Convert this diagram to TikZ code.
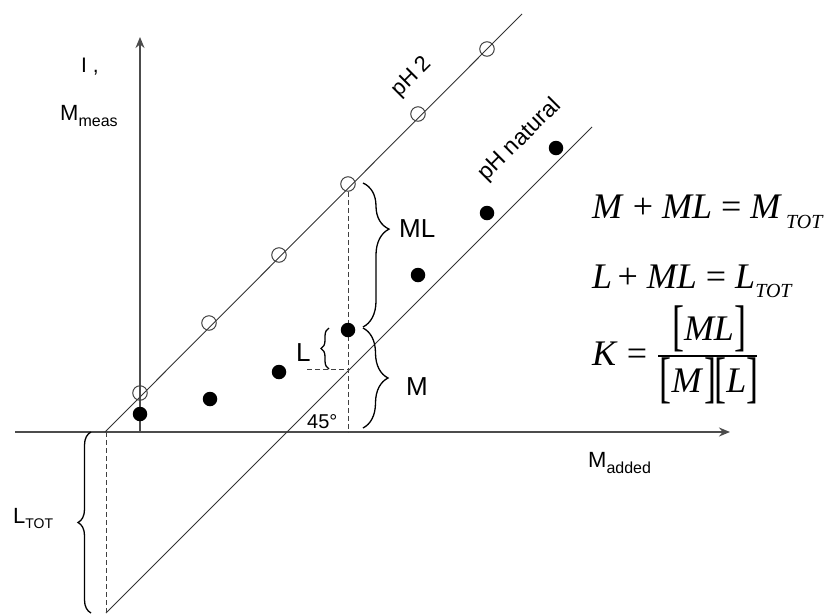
\documentclass[tikz,border=0pt]{standalone}
\usepackage{fontspec}
\usepackage{graphicx}
\setmainfont{Liberation Sans}
\newfontfamily\eqfont{Liberation Serif}
\usetikzlibrary{decorations.pathreplacing,arrows.meta}
\newcommand{\lbrk}{\raisebox{-4pt}{\scalebox{1}[1.55]{[}}}
\newcommand{\rbrk}{\raisebox{-4pt}{\scalebox{1}[1.55]{]}}}
\begin{document}
\begin{tikzpicture}[x=1pt,y=-1pt,
  diag/.style={draw=black!80, line width=0.9pt},
  axis/.style={draw=black!70, line width=1.8pt, -{Stealth[length=11pt,width=9pt]}},
  dashline/.style={draw=black!75, line width=1pt, dash pattern=on 5pt off 3pt},
  opendot/.style={circle, draw=black!75, line width=1pt, minimum size=14.5pt, inner sep=0pt},
  fulldot/.style={circle, fill=black, minimum size=14.5pt, inner sep=0pt},
  bracestyle/.style n args={2}{draw=black, line width=1.3pt, decorate, decoration={brace, amplitude=#1, aspect=#2}},
  lab/.style={font=\fontsize{26}{26}\selectfont, inner sep=0pt, anchor=base west},
  sublab/.style={font=\fontsize{22}{22}\selectfont, inner sep=0pt, anchor=base west},
  eq/.style={font=\eqfont\fontsize{36}{36}\selectfont, inner sep=0pt, anchor=base west},
]
\useasboundingbox (0,0) rectangle (825,614);
% axes
\coordinate (xs) at (15,432);
\coordinate (xe) at (730,432);
\coordinate (ys) at (140,432);
\coordinate (ye) at (140,37);
\draw[axis] (xs) -- (xe);
\draw[axis] (ys) -- (ye);
% diagonal lines
\coordinate (a1) at (105,432);
\coordinate (a2) at (522,14);
\coordinate (b1) at (106,613);
\coordinate (b2) at (592,127);
\draw[diag] (a1) -- (a2);
\draw[diag] (b1) -- (b2);
% dashed lines
\coordinate (d1) at (348,432);
\coordinate (d2) at (307,369);
\coordinate (d3) at (348,369);
\coordinate (d4) at (106,432);
\draw[dashline] (d4) -- (b1);
\draw[dashline] (d2) -- (d3);
% open circles
\node[opendot] (c1) at (140,393) {};
\node[opendot] (c2) at (209,323) {};
\node[opendot] (c3) at (279,255) {};
\node[opendot] (c4) at (348,184) {};
\node[opendot] (c5) at (418,114) {};
\node[opendot] (c6) at (487,49) {};
\draw[dashline] (c4.south) -- (d1);
% filled dots
\node[fulldot] (f1) at (140,414) {};
\node[fulldot] (f2) at (210,399) {};
\node[fulldot] (f3) at (279,372) {};
\node[fulldot] (f4) at (348,330) {};
\node[fulldot] (f5) at (418,275) {};
\node[fulldot] (f6) at (487,213) {};
\node[fulldot] (f7) at (556,148) {};
% braces
\coordinate (br1) at (363,183);
\coordinate (br2) at (363,327);
\coordinate (br3) at (363,328);
\coordinate (br4) at (363,428);
\coordinate (br5) at (329,369);
\coordinate (br6) at (329,328);
\coordinate (br7) at (91,613);
\coordinate (br8) at (91,432);
\draw[bracestyle={26pt}{0.32}] (br1) -- (br2);
\draw[bracestyle={25pt}{0.5}] (br3) -- (br4);
\draw[bracestyle={8pt}{0.5}] (br5) -- (br6);
\draw[bracestyle={13pt}{0.5}] (br7) -- (br8);
% labels
\node[font=\fontsize{21}{21}\selectfont, inner sep=0pt, anchor=base west] (lI) at (81,72) {I ,};
\node[sublab] (lM) at (60,120) {M\raisebox{-6pt}{\fontsize{16}{16}\selectfont meas}};
\node[sublab] (lMa) at (588,467) {M\raisebox{-6pt}{\fontsize{16}{16}\selectfont added}};
\node[sublab] (lLt) at (13,523) {L\raisebox{-5pt}{\fontsize{14}{14}\selectfont TOT}};
\node[lab] (lML) at (399,237) {ML};
\node[lab] (lMM) at (406,395) {M};
\node[lab] (lL) at (296,361) {L};
\node[font=\fontsize{20}{20}\selectfont, inner sep=0pt, anchor=base west] (l45) at (307,428) {45°};
\node[font=\fontsize{22}{22}\selectfont, inner sep=0pt, rotate=45] (lpH2) at (412,77) {pH 2};
\node[font=\fontsize{23}{23}\selectfont, inner sep=0pt, rotate=45] (lpHn) at (520,140) {pH natural};
% equations
\node[eq] (e1) at (592,218) {\textit{M}\hspace{0.25em}+\hspace{0.25em}\textit{ML}\hspace{0.25em}=\hspace{0.25em}\textit{M}\hspace{4pt}\raisebox{-10pt}{\fontsize{20}{20}\selectfont\textit{TOT}}};
\node[eq] (e2) at (592,288) {\textit{L}\hspace{0.15em}+\hspace{0.25em}\textit{ML}\hspace{0.25em}=\hspace{0.25em}\textit{L}\raisebox{-9pt}{\fontsize{20}{20}\selectfont\textit{TOT}}};
\node[eq] (e3) at (592,365) {\textit{K}\hspace{0.25em}=};
\node[eq, anchor=base] (num) at (709,340) {\lbrk\textit{ML}\rbrk};
\node[eq, anchor=base] (den) at (709,392) {\lbrk\textit{M}\hspace{1pt}\rbrk\hspace{-2pt}\lbrk\textit{L}\rbrk};
\coordinate (fb1) at (658,356);
\coordinate (fb2) at (757,356);
\draw[line width=1.2pt] (fb1) -- (fb2);
\end{tikzpicture}
\end{document}
